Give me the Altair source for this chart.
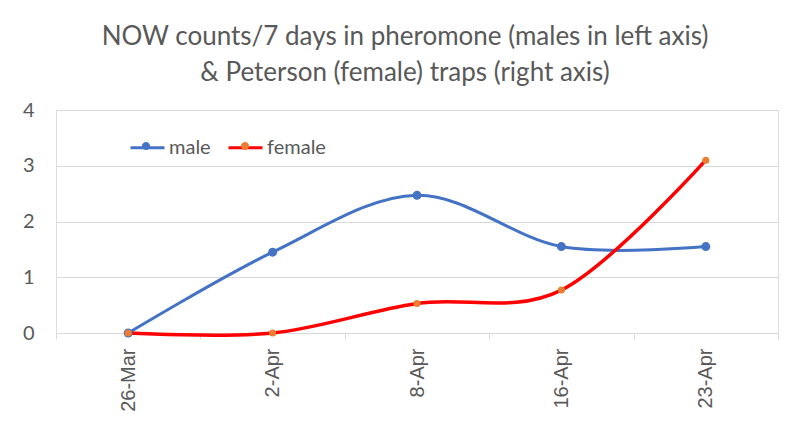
import altair as alt
import pandas as pd

dates = ["26-Mar", "2-Apr", "8-Apr", "16-Apr", "23-Apr"]
male = [0, 1.45, 2.47, 1.55, 1.55]
female = [0, 0, 0.53, 0.77, 3.1]
series_names = ["male", "female"]
marker_names = ["male ", "female "]
line_colors = ["#4472C4", "#FF0000"]
marker_colors = ["#4472C4", "#ED7D31"]

rows = []
for name, mk, vals in zip(series_names, marker_names, [male, female]):
    for d, v in zip(dates, vals):
        rows.append({"date": d, "series": name, "marker": mk, "value": v})
df = pd.DataFrame(rows)

GRAY = "#595959"
GRID = "#d9d9d9"

x_enc = alt.X(
    "date:N",
    sort=dates,
    bandPosition=0.5,
    scale=alt.Scale(type="band", paddingInner=0, paddingOuter=0),
    axis=alt.Axis(
        title=None,
        labelAngle=-90,
        labelFont="Liberation Sans",
        labelFontSize=20,
        labelColor=GRAY,
        tickBand="extent",
        tickColor=GRID,
        tickSize=6,
        domainColor=GRID,
        labelPadding=9,
        grid=False,
    ),
)
y_enc = alt.Y(
    "value:Q",
    scale=alt.Scale(domain=[0, 4]),
    axis=alt.Axis(
        title=None,
        values=[0, 1, 2, 3, 4],
        labelFont="Lato",
        labelFontSize=20,
        labelColor=GRAY,
        labelPadding=22,
        ticks=False,
        domain=False,
        grid=True,
        gridColor=GRID,
        gridWidth=1,
    ),
)

common_legend = dict(
    title=None,
    orient="none",
    legendX=73,
    legendY=19,
    direction="horizontal",
    symbolSize=1156,
    labelFont="Lato",
    labelFontSize=20,
    labelColor=GRAY,
    labelOffset=3,
)

color_enc = alt.Color(
    "series:N",
    scale=alt.Scale(domain=series_names, range=line_colors),
    legend=alt.Legend(
        symbolType="stroke", symbolStrokeWidth=3, columnPadding=11, **common_legend
    ),
)
fill_enc = alt.Fill(
    "marker:N",
    scale=alt.Scale(domain=marker_names, range=marker_colors),
    legend=alt.Legend(
        symbolType="M-0.24,0A0.24,0.24 0 1,1 0.24,0A0.24,0.24 0 1,1 -0.24,0Z",
        symbolStrokeWidth=0,
        labelExpr="''",
        columnPadding=62,
        **common_legend,
    ),
)

base = alt.Chart(df).encode(x=x_enc, y=y_enc)

line_m = base.transform_filter(alt.datum.series == "male").mark_line(
    interpolate="cardinal", strokeWidth=3
).encode(color=color_enc)
line_f = base.transform_filter(alt.datum.series == "female").mark_line(
    interpolate="cardinal", strokeWidth=3.5
).encode(color=color_enc)
pts_m = base.transform_filter(alt.datum.series == "male").mark_circle(
    size=80, opacity=1
).encode(fill=fill_enc)
pts_f = base.transform_filter(alt.datum.series == "female").mark_circle(
    size=50, opacity=1
).encode(fill=fill_enc)

chart = (
    alt.layer(line_m, line_f, pts_m, pts_f)
    .properties(
        width=722,
        height=223,
        autosize=alt.AutoSizeParams(type="none"),
        padding={"left": 48, "top": 102, "right": 3, "bottom": 100},
        title=alt.TitleParams(
            text=[
                "NOW counts/7 days in pheromone (males in left axis)",
                "& Peterson (female) traps (right axis)",
            ],
            font="Lato",
            fontSize=26,
            fontWeight="normal",
            color=GRAY,
            anchor="middle",
            dx=-12,
            offset=14,
            lineHeight=36,
        ),
    )
    .configure_view(stroke=None)
    .configure(background="white")
)

chart.save("out.html", embed_options={"renderer": "svg", "actions": False})
